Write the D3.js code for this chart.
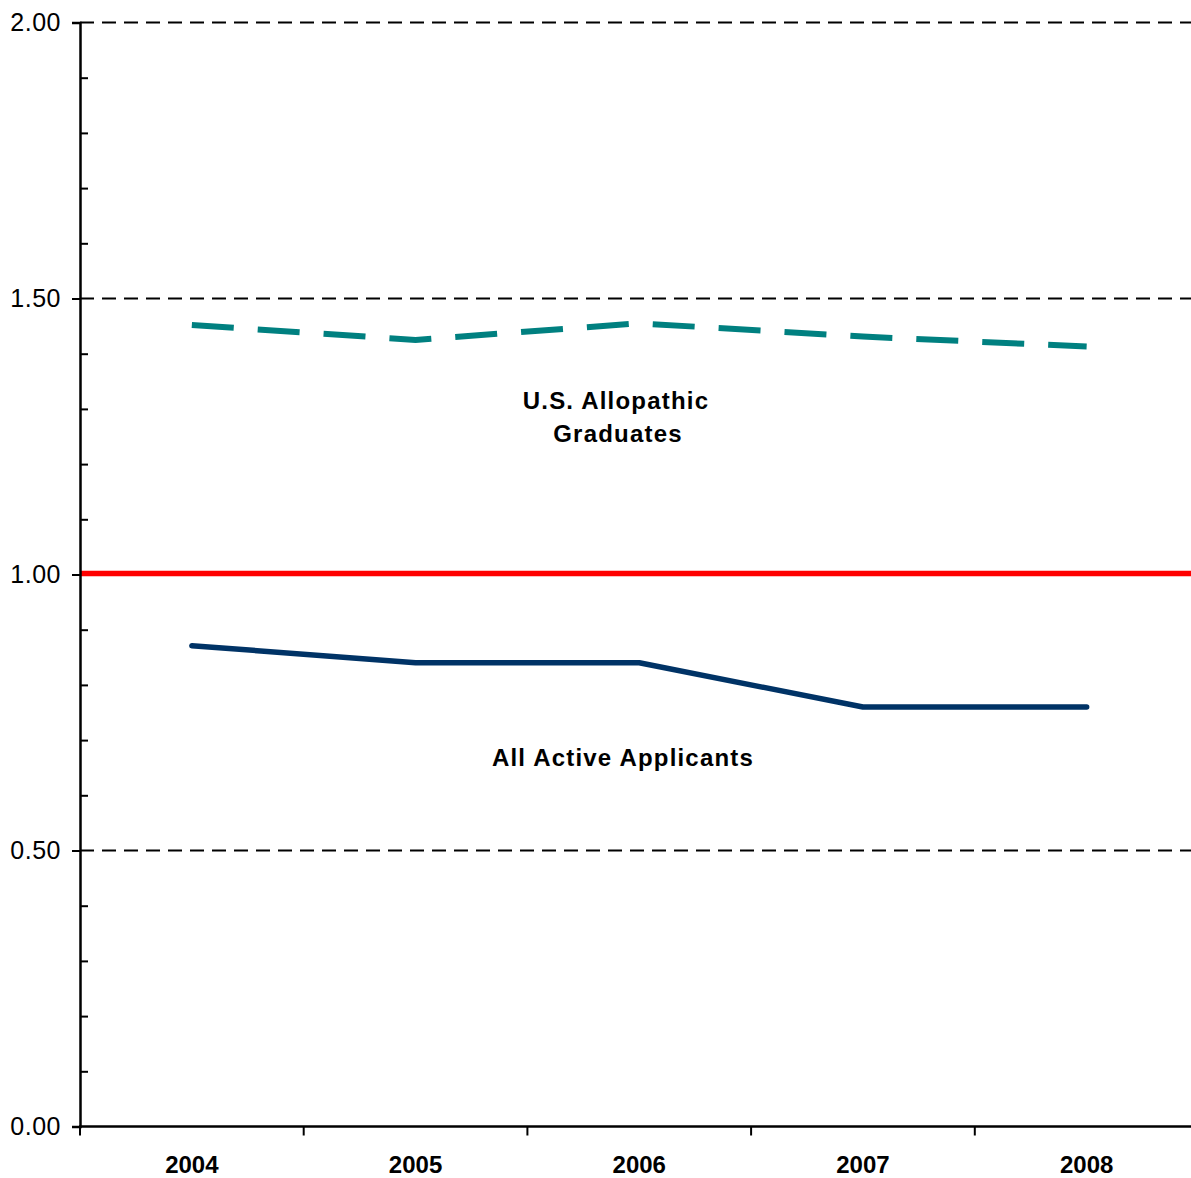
<!DOCTYPE html>
<html lang="en">
<head>
<meta charset="UTF-8">
<title>Ratio chart 2004-2008</title>
<script src="https://d3js.org/d3.v7.min.js"></script>
<style>
  body { margin: 0; background: #fff; }
  svg { display: block; font-family: "Liberation Sans", Arial, sans-serif; }
  .lbl { font-size: 24px; font-weight: bold; fill: #000; }
  .note { letter-spacing: 1.2px; }
</style>
</head>
<body>
<div id="chart"></div>
<script>
// ---- data ----
const years = ['2004', '2005', '2006', '2007', '2008'];
const allopathic = [1.452, 1.425, 1.455, 1.431, 1.413];   // U.S. Allopathic Graduates
const activeApplicants = [0.871, 0.840, 0.840, 0.760, 0.760]; // All Active Applicants
const parity = [1.00, 1.00, 1.00, 1.00, 1.00];
const yTicks = [0, 0.5, 1.0, 1.5, 2.0];

const W = 1191, H = 1178;
const m = { top: 22.5, left: 80, bottom: 51.5 };
const plotW = 5 * 223.7;

const svg = d3.select('#chart').append('svg')
    .attr('width', W).attr('height', H);

const x = d3.scaleBand().domain(years).range([m.left, m.left + plotW]);
const y = d3.scaleLinear().domain([0, 2]).range([H - m.bottom, m.top]);
const xc = d => x(d) + x.bandwidth() / 2;

// dashed gridlines
svg.append('g').selectAll('line')
  .data(yTicks.filter(d => d > 0))
  .join('line')
    .attr('x1', m.left).attr('x2', W)
    .attr('y1', d => y(d)).attr('y2', d => y(d))
    .attr('stroke', '#000').attr('stroke-width', 2)
    .attr('stroke-dasharray', '14,8');

// parity line at 1.00 (red)
svg.append('line')
    .attr('x1', m.left).attr('x2', W)
    .attr('y1', y(parity[0]) - 1).attr('y2', y(parity[0]) - 1)
    .attr('stroke', '#ff0000').attr('stroke-width', 5.5);

// y axis (major ticks outside)
const yAxis = svg.append('g')
    .attr('transform', `translate(${m.left},0)`)
    .call(d3.axisLeft(y).tickValues(yTicks).tickFormat(d3.format('.2f'))
      .tickSize(8).tickPadding(11));
yAxis.select('.domain').attr('stroke-width', 2.5);
yAxis.selectAll('.tick line').attr('stroke-width', 2);
yAxis.selectAll('text').attr('font-size', 25).attr('letter-spacing', '0.5px')
    .attr('font-family', '"Liberation Sans", Arial, sans-serif').attr('fill', '#000');

// y minor ticks (inside)
const minor = d3.range(1, 20).map(i => i / 10).filter(v => Math.round(v * 10) % 5 !== 0);
svg.append('g')
    .attr('transform', `translate(${m.left},0)`)
    .call(d3.axisRight(y).tickValues(minor).tickSize(8).tickFormat(''))
    .call(g => g.select('.domain').remove())
    .selectAll('.tick line').attr('stroke-width', 2);

// x axis
const xAxis = svg.append('g')
    .attr('transform', `translate(0,${y(0)})`)
    .call(d3.axisBottom(x).tickSize(0).tickPadding(29));
xAxis.select('.domain').remove();
xAxis.selectAll('text').attr('class', 'lbl').attr('dy', '0.71em');
svg.append('line')
    .attr('x1', m.left - 1).attr('x2', W)
    .attr('y1', y(0)).attr('y2', y(0))
    .attr('stroke', '#000').attr('stroke-width', 2.5);
svg.append('g').selectAll('line')
  .data(years)
  .join('line')
    .attr('x1', d => x(d)).attr('x2', d => x(d))
    .attr('y1', y(0)).attr('y2', y(0) + 9)
    .attr('stroke', '#000').attr('stroke-width', 2);

// series lines
const line = d3.line().x((d, i) => xc(years[i])).y(d => y(d));

svg.append('path')
    .datum(activeApplicants)
    .attr('d', line)
    .attr('fill', 'none')
    .attr('stroke', '#003366').attr('stroke-width', 5.5)
    .attr('stroke-linecap', 'round').attr('stroke-linejoin', 'round');

svg.append('path')
    .datum(allopathic)
    .attr('d', line)
    .attr('fill', 'none')
    .attr('stroke', '#008080').attr('stroke-width', 6)
    .attr('stroke-dasharray', '42,24');

// series labels
const t1 = svg.append('text').attr('class', 'lbl note').attr('text-anchor', 'middle');
t1.append('tspan').attr('x', 616).attr('y', 409).text('U.S. Allopathic');
t1.append('tspan').attr('x', 618).attr('y', 442).text('Graduates');

svg.append('text').attr('class', 'lbl note').attr('text-anchor', 'middle')
    .attr('x', 623).attr('y', 766).text('All Active Applicants');
</script>
</body>
</html>
